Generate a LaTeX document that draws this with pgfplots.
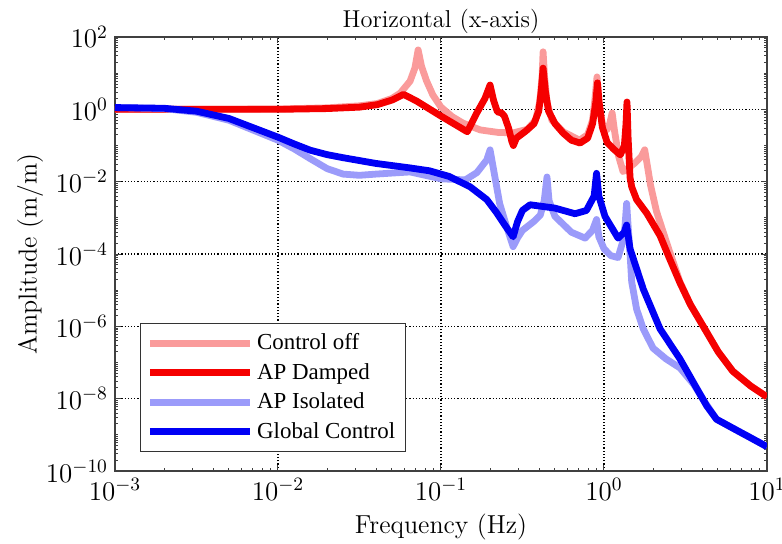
\RequirePackage{fix-cm}
\documentclass[border=0pt]{standalone}
\usepackage{fontspec}
\newfontfamily\timesfont{Liberation Serif}
\usepackage{pgfplots}
\pgfplotsset{compat=1.18}
\definecolor{pinkc}{RGB}{250,155,155}
\definecolor{redc}{RGB}{245,0,0}
\definecolor{lbluec}{RGB}{155,155,250}
\definecolor{bluec}{RGB}{0,0,245}
\def\myminory{100}%
\foreach \k in {-10,...,1}{\foreach \m in {1,...,9}{\xdef\myminory{\myminory,\m e\k}}}%
\def\myminorx{10}%
\foreach \k in {-3,...,0}{\foreach \m in {1,...,9}{\xdef\myminorx{\myminorx,\m e\k}}}%
\begin{document}%
\begin{tikzpicture}
\begin{axis}[
  at={(0,0)}, anchor=south west, scale only axis, width=326pt, height=217pt,
  xmode=log, ymode=log, xmin=1e-3, xmax=10, ymin=1e-10, ymax=100,
  xtick={1e-3,1e-2,1e-1,1,10}, ytick={1e-10,1e-8,1e-6,1e-4,1e-2,1,100},
  minor ytick/.expanded={\myminory}, minor xtick/.expanded={\myminorx},
  grid=major, major grid style={black, line width=0.6pt, dash pattern=on 0.6pt off 1pt},
  minor grid style={draw=none},
  axis line style={line width=0.7pt, black!75},
  every tick/.style={black!75, line width=0.5pt},
  major tick length=3pt, minor tick length=1.6pt,
  tick align=inside, xtick pos=both, ytick pos=both,
  every axis title shift=0pt,
  title={Horizontal (x-axis)}, title style={font=\fontsize{12.2}{14}\selectfont, at={(0.5,1)}, anchor=base, yshift=5pt},
  xlabel={Frequency (Hz)}, ylabel={Amplitude (m/m)}, ylabel shift=-5.5pt,
  label style={font=\fontsize{13}{15}\selectfont},
  tick label style={font=\fontsize{13.5}{15}\selectfont},
  legend style={at={(0.038,0.044)}, anchor=south west, draw=black!80, line width=0.6pt,
    font=\timesfont\fontsize{11.45}{13}\selectfont, inner xsep=3pt, inner ysep=3pt,
    row sep=1.3pt, /tikz/every even column/.append style={column sep=0pt}},
  legend cell align=left,
  legend image code/.code={\draw[#1] (0pt,0pt) -- (50pt,0pt);},
  every axis plot/.append style={line width=3.4pt, line join=round},
]
\coordinate (bl) at (rel axis cs:0,0);
\coordinate (tr) at (rel axis cs:1,1);
\addplot[pinkc] coordinates {(0.001,1) (0.00316,1) (0.01,1.02) (0.02,1.1) (0.0316,1.25) (0.0407,1.45) (0.05,2.0) (0.0562,2.8) (0.0646,6) (0.0692,14) (0.0724,44) (0.0759,15.8) (0.0813,6.3) (0.0891,2.5) (0.1,1.15) (0.117,0.63) (0.136,0.42) (0.174,0.27) (0.224,0.23) (0.277,0.224) (0.339,0.28) (0.38,0.5) (0.403,1.58) (0.417,7.9) (0.423,39) (0.432,7.9) (0.447,1.58) (0.479,0.5) (0.562,0.24) (0.708,0.14) (0.794,0.2) (0.851,0.5) (0.881,2) (0.906,7.9) (0.933,1.58) (0.977,0.4) (1.042,0.27) (1.084,0.4) (1.122,0.79) (1.161,0.25) (1.23,0.05) (1.309,0.019) (1.445,0.026) (1.549,0.033) (1.698,0.05) (1.778,0.076) (1.84,0.03) (1.93,0.008) (2.1,0.0015) (2.512,1.26e-4) (2.924,1.7e-5) (3.388,4e-6) (4.064,1e-6) (5.012,2e-7) (6.166,5.75e-8) (7.943,2.24e-8) (10,1.12e-8)};
\addlegendentry{Control off}
\addplot[redc] coordinates {(0.001,1) (0.00316,1) (0.01,1.0) (0.02,1.05) (0.0316,1.15) (0.0407,1.35) (0.05,1.8) (0.0589,2.6) (0.0708,1.7) (0.1,0.65) (0.126,0.35) (0.145,0.24) (0.166,0.8) (0.186,2.0) (0.2,4.7) (0.21,1.8) (0.222,0.85) (0.235,0.8) (0.245,0.65) (0.26,0.3) (0.272,0.13) (0.278,0.1) (0.29,0.16) (0.331,0.25) (0.372,0.4) (0.398,0.89) (0.412,3.16) (0.423,13.8) (0.437,3.16) (0.457,0.89) (0.501,0.4) (0.562,0.22) (0.631,0.14) (0.713,0.117) (0.794,0.16) (0.851,0.4) (0.891,1.58) (0.912,5.4) (0.933,1.58) (0.977,0.32) (1.047,0.12) (1.148,0.079) (1.259,0.055) (1.334,0.1) (1.365,0.4) (1.384,1.6) (1.406,0.16) (1.445,0.013) (1.479,0.0072) (1.585,0.0032) (1.828,0.00135) (2.208,3.2e-4) (2.512,7.9e-5) (2.924,1.6e-5) (3.388,4e-6) (4.064,1e-6) (5.012,2e-7) (6.166,5.75e-8) (7.943,2.24e-8) (10,1.12e-8)};
\addlegendentry{AP Damped}
\addplot[lbluec] coordinates {(0.001,1.12) (0.002,1.05) (0.00316,0.83) (0.005,0.5) (0.01,0.14) (0.0126,0.08) (0.0158,0.043) (0.02,0.023) (0.0251,0.0162) (0.0316,0.015) (0.0398,0.0162) (0.0646,0.0186) (0.1,0.012) (0.141,0.0112) (0.166,0.0178) (0.191,0.04) (0.2,0.076) (0.209,0.025) (0.229,0.0025) (0.251,6.3e-4) (0.277,1.6e-4) (0.295,2.8e-4) (0.316,4.5e-4) (0.372,8e-4) (0.407,1.2e-3) (0.43,3e-3) (0.447,0.0135) (0.46,3e-3) (0.5,1.1e-3) (0.631,4e-4) (0.766,2.75e-4) (0.85,4.5e-4) (0.9,9e-4) (0.93,3e-4) (1.0,1.4e-4) (1.1,9e-5) (1.22,8e-5) (1.33,3e-4) (1.377,2.5e-3) (1.41,5e-4) (1.445,1e-4) (1.479,1.7e-5) (1.585,3e-6) (1.742,8.5e-7) (2,2.5e-7) (2.4,1.26e-7) (2.924,7.1e-8) (3.548,2.5e-8) (4.169,7.9e-9) (4.9,2.7e-9) (6.31,1.45e-9) (7.94,8.3e-10) (10,4.7e-10)};
\addlegendentry{AP Isolated}
\addplot[bluec] coordinates {(0.001,1.12) (0.002,1.07) (0.00316,0.89) (0.005,0.56) (0.01,0.17) (0.0126,0.11) (0.0158,0.074) (0.02,0.056) (0.0251,0.046) (0.0398,0.032) (0.0646,0.024) (0.085,0.02) (0.112,0.014) (0.151,0.0072) (0.191,0.0032) (0.219,1.4e-3) (0.251,5.6e-4) (0.277,3e-4) (0.295,7.9e-4) (0.316,1.6e-3) (0.352,2.3e-3) (0.5,1.86e-3) (0.664,1.3e-3) (0.78,1.6e-3) (0.87,4e-3) (0.9,0.017) (0.93,4e-3) (1.014,1.1e-3) (1.22,2.75e-4) (1.33,4e-4) (1.377,6.3e-4) (1.41,3e-4) (1.445,1.4e-4) (1.742,1.07e-5) (2.208,8.5e-7) (2.924,1.26e-7) (4.27,6.3e-9) (4.9,2.7e-9) (6.31,1.45e-9) (7.94,8.3e-10) (10,4.7e-10)};
\addlegendentry{Global Control}
\end{axis}
\pgfresetboundingbox
\useasboundingbox ([shift={(-57.5pt,-36pt)}]bl) rectangle ([shift={(7.5pt,18.5pt)}]tr);
\end{tikzpicture}%
\end{document}
